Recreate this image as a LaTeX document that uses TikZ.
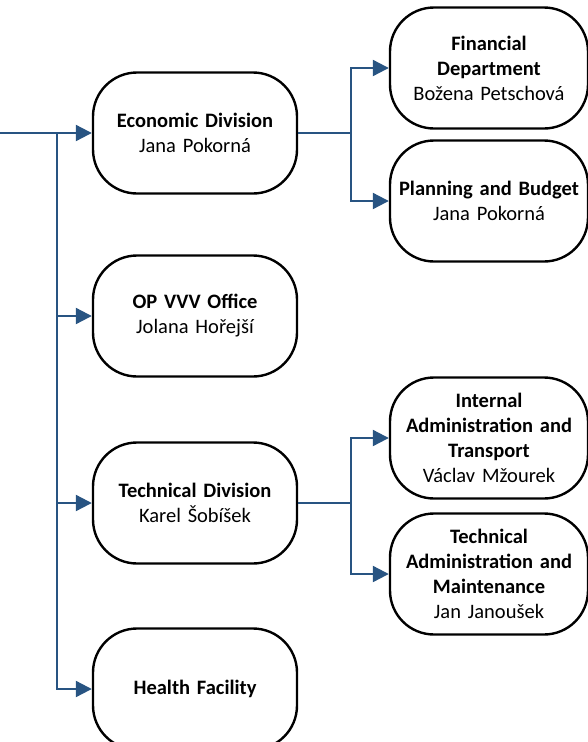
\documentclass[tikz,border=0pt]{standalone}
\usepackage{fontspec}
\setmainfont{Carlito}
\usetikzlibrary{arrows.meta}
\definecolor{linkblue}{RGB}{40,84,130}
\tikzset{
  box/.style={draw=black, line width=2.4pt, fill=white, rectangle, rounded corners=44pt,
    align=center, inner sep=2pt, font=\fontsize{20.5}{25}\selectfont},
  leftbox/.style={box, minimum width=204pt, minimum height=121pt, text width=200pt},
  rightbox/.style={box, minimum width=198pt, minimum height=121pt, text width=194pt},
  conn/.style={draw=linkblue, line width=2.2pt, -{Triangle[length=16pt,width=16pt]}},
  plain/.style={draw=linkblue, line width=2.2pt}
}
\begin{document}
\begin{tikzpicture}[x=1pt,y=1pt]
\useasboundingbox (0,0) rectangle (588,-742);
\node[leftbox] (eco) at (195,-133) {\textbf{Economic Division}\\Jana Pokorná};
\node[leftbox] (op) at (195,-316) {\textbf{OP VVV Office}\\Jolana Hořejší};
\node[leftbox] (tech) at (195,-503) {\textbf{Technical Division}\\Karel Šobíšek};
\node[leftbox] (health) at (195,-689) {\textbf{Health Facility}};
\node[rightbox] (fin) at (489,-68) {\textbf{Financial}\\\textbf{Department}\\Božena Petschová};
\node[rightbox] (plan) at (489,-201) {\textbf{Planning and Budget}\\Jana Pokorná};
\node[rightbox] (int) at (489,-438) {\textbf{Internal}\\\textbf{Administration and}\\\textbf{Transport}\\Václav Mžourek};
\node[rightbox] (tam) at (489,-574) {\textbf{Technical}\\\textbf{Administration and}\\\textbf{Maintenance}\\Jan Janoušek};
\coordinate (start) at (0,-133);
\coordinate (trunk) at (57,-133);
\coordinate (b1) at (351,-133);
\coordinate (b2) at (351,-503);
\draw[conn] (start) -- (eco.west);
\draw[conn] (trunk) |- (op.west);
\draw[conn] (trunk) |- (tech.west);
\draw[conn] (trunk) |- (health.west);
\draw[plain] (eco.east) -- (b1);
\draw[conn] (b1) |- (fin.west);
\draw[conn] (b1) |- (plan.west);
\draw[plain] (tech.east) -- (b2);
\draw[conn] (b2) |- (int.west);
\draw[conn] (b2) |- (tam.west);
\end{tikzpicture}
\end{document}
